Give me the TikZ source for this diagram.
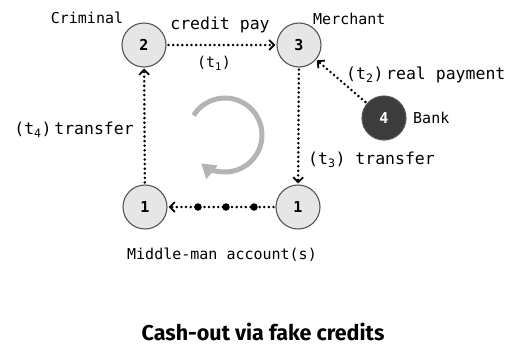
\documentclass[tikz,border=0pt]{standalone}
\usepackage{fontspec}
\setmonofont{DejaVu Sans Mono}
\newfontfamily\titlefont{Fira Sans}
\usetikzlibrary{arrows.meta}
\newcommand\lblsmall{\ttfamily\fontsize{15}{18}\selectfont}
\newcommand\lblbig{\ttfamily\fontsize{16.5}{20}\selectfont}
\definecolor{nodefill}{HTML}{E6E6E6}
\definecolor{nodeline}{HTML}{555555}
\definecolor{bankfill}{HTML}{3C3C3C}
\definecolor{cyclegray}{HTML}{B4B4B4}
\tikzset{
  acct/.style={circle, draw=nodeline, fill=nodefill, line width=1.1pt, minimum size=44pt, inner sep=0pt, font=\lblsmall\bfseries},
  bankbox/.style={circle, draw=nodeline, fill=bankfill, text=white, line width=1.1pt, minimum size=44pt, inner sep=0pt, font=\lblsmall\bfseries},
  flow/.style={line width=2.8pt, dash pattern=on 0pt off 4.6pt, line cap=round, -{Straight Barb[length=5pt,width=10pt,line width=1.8pt]}, shorten >=1pt, shorten <=2pt},
  txt/.style={font=\lblbig, inner sep=0pt},
  txts/.style={font=\lblsmall, inner sep=0pt},
  blob/.style={circle, fill=black, minimum size=7.5pt, inner sep=0pt}
}
\begin{document}
\begin{tikzpicture}[x=1pt,y=-1pt]
\useasboundingbox (0,0) rectangle (515,346);
\node[acct] (n2) at (144,45) {2};
\node[acct] (n3) at (299,45) {3};
\node[bankbox] (n4) at (384,118) {4};
\node[acct] (n1l) at (145,207) {1};
\node[acct] (n1r) at (298,207) {1};

\node[blob] (d1) at (198,207) {};
\node[blob] (d2) at (226,207) {};
\node[blob] (d3) at (254,207) {};

\draw[flow] (n2) -- (n3);
\draw[flow] (n4) -- (n3);
\draw[flow] (n3) -- (n1r);
\draw[flow] (n1r) -- (n1l);
\draw[flow] (n1l) -- (n2);

\node[txts] (lcrim) at (87,18) {Criminal};
\node[txts, anchor=west] (lmer) at (313,19) {Merchant};
\node[txts, anchor=west] (lbank) at (413,118) {Bank};
\node[txt] (lcp) at (220,25) {credit pay};
\node[txts] (lt1) at (214,63) {(t\textsubscript{1})};
\node[txt, anchor=west] (lt2) at (346,75) {(t\textsubscript{2})\,real payment};
\node[txt, anchor=west] (lt3) at (308,160) {(t\textsubscript{3}) transfer};
\node[txt, anchor=east] (lt4) at (134,130) {(t\textsubscript{4})\,transfer};
\node[txts] (lmid) at (222,255) {Middle-man account(s)};
\node[font=\titlefont\bfseries\fontsize{21.5}{26}\selectfont, inner sep=0pt] (title) at (263,332) {Cash-out via fake credits};

\draw[cyclegray, line width=5pt, -{Triangle[length=14pt,width=17pt]}]
  (225,135) ++(212:37) arc[start angle=212, end angle=490, radius=37];
\end{tikzpicture}
\end{document}
